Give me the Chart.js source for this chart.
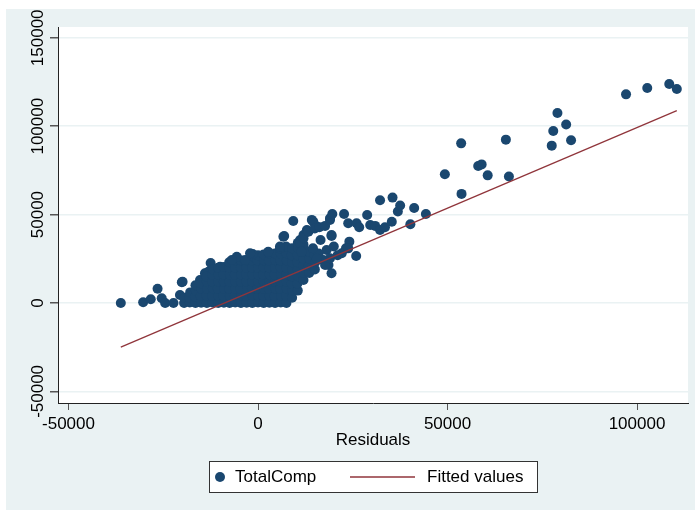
<!DOCTYPE html>
<html>
<head>
<meta charset="utf-8">
<title>TotalComp vs Residuals</title>
<script src="https://cdn.jsdelivr.net/npm/chart.js@4/dist/chart.umd.min.js"></script>
<style>
  html, body { margin: 0; padding: 0; background: #fff; }
  canvas { display: block; }
</style>
</head>
<body>
<canvas id="myChart" width="695" height="510"></canvas>
<script>
// [residual, TotalComp] pairs
var leftTail = [
  [-36200, 0], [-30300, 400], [-28300, 2100], [-26500, 8100], [-25400, 2700],
  [-24500, 0], [-22300, 0], [-20100, 11700], [-20600, 4500], [-18400, 1700],
  [-16200, 7400], [-15300, 13000], [-12500, 22600], [-14000, 16800], [-19900, 12000],
  [-17100, 5500], [-13100, 17700], [-10000, 20500]
];

var mainCluster = [
  [-19500, 0], [-19400, 3000],
  [-18000, 300], [-18100, 3200], [-17900, 6000],
  [-16500, 0], [-16600, 3500], [-16400, 7000], [-16500, 10000],
  [-15000, 200], [-15100, 4000], [-14900, 8000], [-15000, 11000],
  [-13500, 0], [-13600, 4200], [-13400, 8000], [-13500, 12000], [-13600, 15000],
  [-12000, 300], [-12100, 4000], [-11900, 8200], [-12000, 12000], [-12100, 16000], [-11900, 19000],
  [-10500, 0], [-10400, 4000], [-10600, 8000], [-10500, 12200], [-10400, 16000], [-10500, 20000],
  [-9000, 200], [-9100, 4100], [-8900, 8000], [-9000, 12000], [-9100, 16100], [-9000, 20300],
  [-7500, 0], [-7400, 4000], [-7600, 8100], [-7500, 12000], [-7400, 16000], [-7500, 20000], [-7600, 23000],
  [-6000, 300], [-6100, 4000], [-5900, 8000], [-6000, 12100], [-6100, 16000], [-6000, 20000], [-5900, 24000],
  [-4500, 0], [-4400, 4200], [-4600, 8000], [-4500, 12000], [-4400, 16000], [-4500, 20100], [-4600, 24200],
  [-3000, 200], [-3100, 4000], [-2900, 8000], [-3000, 12000], [-3100, 16200], [-3000, 20000], [-2900, 24000],
  [-1500, 0], [-1400, 4000], [-1600, 8100], [-1500, 12000], [-1400, 16000], [-1500, 20000], [-1600, 24000], [-1500, 26500],
  [0, 300], [100, 4000], [-100, 8000], [0, 12200], [100, 16000], [0, 20000], [-100, 24100], [0, 27000],
  [1500, 0], [1400, 4100], [1600, 8000], [1500, 12000], [1400, 16000], [1500, 20200], [1600, 24000], [1500, 27500],
  [3000, 200], [3100, 4000], [2900, 8000], [3000, 12000], [3100, 16100], [3000, 20000], [2900, 24000], [3000, 28000],
  [4500, 0], [4400, 4000], [4600, 8200], [4500, 12000], [4400, 16000], [4500, 20000], [4600, 24200], [4500, 28000],
  [6000, 300], [6100, 4000], [5900, 8000], [6000, 12000], [6100, 16000], [6000, 20100], [5900, 24000], [6000, 28000], [6100, 31000],
  [7500, 0], [7400, 4100], [7600, 8000], [7500, 12100], [7400, 16000], [7500, 20000], [7600, 24000], [7500, 28200], [7400, 32000],
  [9000, 3000], [9100, 7000], [8900, 11000], [9000, 15000], [9100, 19000], [9000, 23000], [8900, 27000], [9000, 31000],
  [10500, 7000], [10400, 11000], [10600, 15000], [10500, 19000], [10400, 23000], [10500, 27000], [10600, 31000], [10500, 34000],
  [12000, 13000], [12100, 17000], [11900, 21000], [12000, 25000], [12100, 29000], [12000, 33000],
  [13500, 17000], [13400, 21000], [13600, 25000], [13500, 29000],
  [15000, 19000], [15100, 23000], [14900, 27000]
];

var upperBand = [
  [-5600, 26200], [-1400, 27700], [-6900, 24300], [-3400, 24300], [2700, 29000],
  [5800, 30900], [11100, 35600], [12000, 38500], [12900, 41300], [6700, 37500],
  [-2100, 28100], [5800, 31900], [11100, 33800], [6900, 37900], [9300, 46400],
  [12900, 40300], [12000, 36600], [16500, 35600], [19400, 37900], [24100, 34700],
  [23200, 30900], [22100, 28100], [25900, 26600], [18100, 30000], [17200, 24300],
  [18600, 21500], [11500, 29000], [14200, 47000], [19400, 38500], [13300, 40300],
  [15500, 43200], [19000, 47900], [19400, 16800], [17700, 21500], [19000, 25300],
  [23800, 30900], [20000, 32000], [21000, 27000], [16000, 28000], [14500, 31000],
  [15500, 25000], [14600, 46000], [15000, 42200], [16200, 42800], [17700, 43600],
  [19000, 47000], [19600, 50300], [22700, 50300], [23800, 45100], [26000, 45100],
  [26700, 42800], [28800, 49800], [29600, 44100], [30900, 43600], [32200, 41300],
  [33500, 42800], [35300, 46000], [40200, 44500], [44300, 50300], [41200, 53700],
  [36900, 51700], [37500, 55100], [35500, 59600], [32200, 58100]
];

var rightTail = [
  [49300, 72800], [53600, 90300], [53700, 61700], [58100, 77500], [59000, 78400],
  [60600, 72200], [65400, 92400], [66200, 71500], [77500, 89000], [77900, 97300],
  [79000, 107500], [81300, 101000], [82600, 92000], [97100, 118000], [102700, 121600],
  [108500, 123900], [110500, 121000]
];

// fitted line end points
var fitX = [-36200, 110500];
var fitY = [-25000, 108800];

var xTicks = [-50000, 0, 50000, 100000];
var yTicks = [-50000, 0, 50000, 100000, 150000];

var seriesNames = ['TotalComp', 'Fitted values'];

var navy = '#1A476F';
var maroon = '#90353B';
var bluishGray = '#EAF2F3';

var allPts = leftTail.concat(mainCluster, upperBand, rightTail);
var scatterData = allPts.map(function (p) { return { x: p[0], y: p[1] }; });
var fitData = fitX.map(function (x, i) { return { x: x, y: fitY[i] }; });

Chart.defaults.font.family = "'Liberation Sans', Arial, Helvetica, sans-serif";
Chart.defaults.font.size = 17;
Chart.defaults.color = '#000';

var stataLook = {
  id: 'stataLook',
  beforeDraw: function (chart) {
    var ctx = chart.ctx, a = chart.chartArea;
    ctx.save();
    ctx.fillStyle = '#fff';
    ctx.fillRect(0, 0, chart.width, chart.height);
    ctx.fillStyle = bluishGray;
    ctx.fillRect(6, 9, chart.width - 6, chart.height - 9);
    ctx.fillStyle = '#fff';
    ctx.fillRect(a.left, a.top, a.right - a.left, a.bottom - a.top);
    ctx.restore();
  },
  afterDraw: function (chart) {
    var ctx = chart.ctx;
    var ys = chart.scales.y;
    ctx.save();
    // rotated y tick labels
    ctx.fillStyle = '#000';
    ctx.font = "17px 'Liberation Sans', Arial, sans-serif";
    ctx.textAlign = 'center';
    ctx.textBaseline = 'middle';
    for (var i = 0; i < yTicks.length; i++) {
      var py = ys.getPixelForValue(yTicks[i]);
      ctx.save();
      ctx.translate(38, py);
      ctx.rotate(-Math.PI / 2);
      ctx.fillText(String(yTicks[i]), 0, 0);
      ctx.restore();
    }
    // legend box
    ctx.fillStyle = '#fff';
    ctx.fillRect(209.5, 461.5, 328, 31);
    ctx.strokeStyle = '#333';
    ctx.lineWidth = 1;
    ctx.strokeRect(209.5, 461.5, 328, 31);
    ctx.fillStyle = navy;
    ctx.beginPath();
    ctx.arc(220, 477, 5, 0, Math.PI * 2);
    ctx.fill();
    ctx.strokeStyle = maroon;
    ctx.lineWidth = 1.3;
    ctx.beginPath();
    ctx.moveTo(350, 477);
    ctx.lineTo(415, 477);
    ctx.stroke();
    ctx.fillStyle = '#000';
    ctx.textAlign = 'left';
    ctx.fillText(seriesNames[0], 235, 477);
    ctx.fillText(seriesNames[1], 427, 477);
    ctx.restore();
  }
};

var myChart = new Chart('myChart', {
  type: 'scatter',
  data: {
    datasets: [{
      type: 'line',
      label: seriesNames[1],
      data: fitData,
      borderColor: maroon,
      borderWidth: 1.3,
      pointRadius: 0,
      fill: false,
      tension: 0
    }, {
      label: seriesNames[0],
      data: scatterData,
      backgroundColor: navy,
      borderWidth: 0,
      pointRadius: 5,
      pointHoverRadius: 5
    }]
  },
  options: {
    responsive: false,
    animation: false,
    devicePixelRatio: 1,
    layout: { padding: { top: 27, right: 7, bottom: 0, left: 0 } },
    plugins: {
      legend: { display: false },
      tooltip: { enabled: false }
    },
    scales: {
      x: {
        type: 'linear',
        min: -52770,
        max: 113450,
        afterFit: function (s) { s.height = 107; },
        afterBuildTicks: function (s) { s.ticks = xTicks.map(function (v) { return { value: v }; }); },
        ticks: {
          padding: 4,
          maxRotation: 0,
          callback: function (v) { return String(v); }
        },
        grid: { drawOnChartArea: false, tickLength: 7, tickColor: '#555' },
        border: { color: '#222', width: 1 },
        title: {
          display: true,
          text: 'Residuals',
          padding: { top: 0, bottom: 59 }
        }
      },
      y: {
        type: 'linear',
        min: -56560,
        max: 156100,
        afterFit: function (s) { s.width = 58; },
        afterBuildTicks: function (s) { s.ticks = yTicks.map(function (v) { return { value: v }; }); },
        ticks: { display: false },
        grid: { color: bluishGray, tickColor: '#555', tickLength: 8, lineWidth: 1.5 },
        border: { color: '#222', width: 1 }
      }
    }
  },
  plugins: [stataLook]
});
</script>
</body>
</html>
